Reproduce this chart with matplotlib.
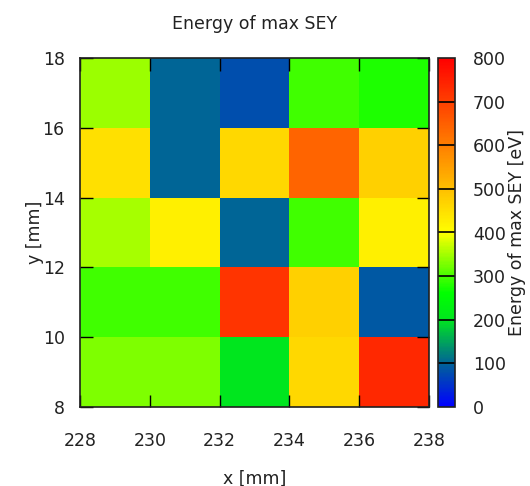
import numpy as np
import matplotlib
matplotlib.use("Agg")
import matplotlib.pyplot as plt
from matplotlib.colors import LinearSegmentedColormap, Normalize

# cell edges (mm)
x_edges = [228, 230, 232, 234, 236, 238]
y_edges = [8, 10, 12, 14, 16, 18]

# energy of max SEY [eV], rows from bottom (y=8..10) to top (y=16..18)
row_8_10 = [330, 330, 200, 460, 737]
row_10_12 = [295, 295, 718, 474, 90]
row_12_14 = [352, 424, 100, 295, 424]
row_14_16 = [449, 100, 461, 643, 474]
row_16_18 = [345, 100, 80, 295, 278]

cb_ticks = [0, 100, 200, 300, 400, 500, 600, 700, 800]

energy = np.array([row_8_10, row_10_12, row_12_14, row_14_16, row_16_18])

# palette similar to the gnuplot one
cmap = LinearSegmentedColormap.from_list("sey", [
    (0.0, (0, 0, 1)),
    (100 / 800, (0, 100 / 255, 150 / 255)),
    (200 / 800, (0, 230 / 255, 30 / 255)),
    (260 / 800, (0, 1, 0)),
    (400 / 800, (1, 1, 0)),
    (1.0, (1, 0, 0)),
])
norm = Normalize(vmin=0, vmax=800)

W, H = 530, 486
fig = plt.figure(figsize=(W / 100, H / 100), dpi=100)
plt.rcParams["font.family"] = "DejaVu Sans"
fs = 12.5
txt = "#222222"

ax = fig.add_axes([80 / W, 1 - 407 / H, 349 / W, 349 / H])
mesh = ax.pcolormesh(x_edges, y_edges, energy, cmap=cmap, norm=norm)

ax.set_xlim(228, 238)
ax.set_ylim(8, 18)
ax.set_xticks(x_edges)
ax.set_yticks(y_edges)
ax.tick_params(direction="in", top=True, right=True, length=9, width=1,
               color="black", labelsize=fs, labelcolor=txt)
ax.tick_params(axis="x", pad=18)
ax.tick_params(axis="y", pad=11)
for sp in ax.spines.values():
    sp.set_color("#202020")
    sp.set_linewidth(1.2)
    sp.set_zorder(5)

ax.set_xlabel("x [mm]", fontsize=fs, color=txt, labelpad=14)
ax.set_ylabel("y [mm]", fontsize=fs, color=txt, labelpad=-1)
ax.set_title("Energy of max SEY", fontsize=fs, color=txt, pad=21)

cax = fig.add_axes([438 / W, 1 - 407 / H, 17 / W, 349 / H])
cb = fig.colorbar(mesh, cax=cax, ticks=cb_ticks)
cb.outline.set_edgecolor("#202020")
cb.outline.set_linewidth(1.2)
cax.tick_params(length=0, labelsize=fs, labelcolor=txt, pad=13)
for v in cb_ticks[1:-1]:
    cax.axhline(v, color="black", lw=1.2)
cb.set_label("Energy of max SEY [eV]", fontsize=fs, color=txt, labelpad=1)

fig.savefig("out.png", dpi=100)
